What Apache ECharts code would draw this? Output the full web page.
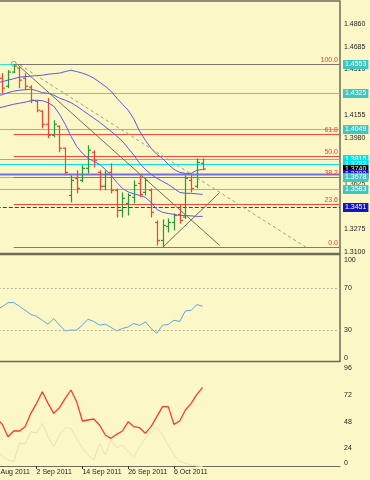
<!DOCTYPE html>
<html>
<head>
<meta charset="utf-8">
<script src="https://cdn.jsdelivr.net/npm/echarts@6/dist/echarts.min.js"></script>
<style>
  html, body { margin: 0; padding: 0; background: #fbf7c6; }
  #chart { width: 370px; height: 480px; }
</style>
</head>
<body>
<div id="chart"></div>
<script>
// trading days on the x axis, index 0 = 23 Aug
var dates = ['23 Aug 2011', '24 Aug 2011', '25 Aug 2011', '26 Aug 2011', '29 Aug 2011', '30 Aug 2011',
  '31 Aug 2011', '1 Sep 2011', '2 Sep 2011', '5 Sep 2011', '6 Sep 2011', '7 Sep 2011', '8 Sep 2011',
  '9 Sep 2011', '12 Sep 2011', '13 Sep 2011', '14 Sep 2011', '15 Sep 2011', '16 Sep 2011', '19 Sep 2011',
  '20 Sep 2011', '21 Sep 2011', '22 Sep 2011', '23 Sep 2011', '26 Sep 2011', '27 Sep 2011', '28 Sep 2011',
  '29 Sep 2011', '30 Sep 2011', '3 Oct 2011', '4 Oct 2011', '5 Oct 2011', '6 Oct 2011', '7 Oct 2011',
  '10 Oct 2011', '11 Oct 2011', '12 Oct 2011', '13 Oct 2011'];
var dateTicks = [0, 8, 16, 24, 32];
var slots = 61;

// daily bars from 25 Aug
var firstBar = 2;
var opens  = [1.4442, 1.4380, 1.4489, 1.4520, 1.4442, 1.4373, 1.4264, 1.4187, 1.4086, 1.4001, 1.4071, 1.3901,
  1.3537, 1.3669, 1.3653, 1.3746, 1.3870, 1.3715, 1.3607, 1.3715, 1.3576, 1.3421, 1.3475, 1.3522,
  1.3630, 1.3560, 1.3576, 1.3328, 1.3189, 1.3297, 1.3328, 1.3390, 1.3370, 1.3653, 1.3607, 1.3785];
var highs  = [1.4481, 1.4504, 1.4551, 1.4527, 1.4481, 1.4388, 1.4272, 1.4195, 1.4288, 1.4117, 1.4079, 1.3908,
  1.3692, 1.3731, 1.3769, 1.3924, 1.3885, 1.3731, 1.3731, 1.3785, 1.3591, 1.3560, 1.3553, 1.3653,
  1.3692, 1.3669, 1.3591, 1.3344, 1.3351, 1.3359, 1.3398, 1.3467, 1.3692, 1.3692, 1.3823, 1.3823];
var lows   = [1.4326, 1.4365, 1.4481, 1.4365, 1.4349, 1.4249, 1.4179, 1.4055, 1.3978, 1.3986, 1.3870, 1.3692,
  1.3483, 1.3553, 1.3638, 1.3707, 1.3754, 1.3576, 1.3576, 1.3553, 1.3367, 1.3367, 1.3382, 1.3475,
  1.3522, 1.3537, 1.3367, 1.3150, 1.3135, 1.3251, 1.3266, 1.3320, 1.3355, 1.3560, 1.3591, 1.3731];
var closes = [1.4365, 1.4489, 1.4535, 1.4427, 1.4380, 1.4272, 1.4195, 1.4086, 1.4001, 1.4086, 1.3901, 1.3715,
  1.3653, 1.3591, 1.3746, 1.3885, 1.3808, 1.3607, 1.3700, 1.3576, 1.3421, 1.3514, 1.3537, 1.3614,
  1.3545, 1.3653, 1.3406, 1.3189, 1.3305, 1.3328, 1.3382, 1.3344, 1.3669, 1.3591, 1.3792, 1.3740];

// indicator lines from 24 Aug
var lineStart = 1;
var envUpper = [1.4404, 1.4415, 1.4427, 1.4438, 1.4450, 1.4454, 1.4458, 1.4462, 1.4465, 1.4473, 1.4477, 1.4481,
  1.4493, 1.4504, 1.4493, 1.4481, 1.4465, 1.4442, 1.4411, 1.4380, 1.4342, 1.4288, 1.4241, 1.4195, 1.4125,
  1.4032, 1.3963, 1.3901, 1.3854, 1.3823, 1.3777, 1.3738, 1.3715, 1.3707, 1.3707, 1.3731, 1.3738];
var envMid = [1.4303, 1.4315, 1.4330, 1.4342, 1.4349, 1.4353, 1.4357, 1.4346, 1.4330, 1.4326, 1.4311, 1.4288,
  1.4272, 1.4253, 1.4226, 1.4195, 1.4164, 1.4133, 1.4102, 1.4067, 1.4032, 1.3994, 1.3955, 1.3901, 1.3847,
  1.3785, 1.3738, 1.3700, 1.3669, 1.3645, 1.3622, 1.3591, 1.3560, 1.3553, 1.3553, 1.3549, 1.3545];
var envLower = [1.4210, 1.4218, 1.4230, 1.4241, 1.4249, 1.4257, 1.4268, 1.4272, 1.4268, 1.4253, 1.4226, 1.4164,
  1.4086, 1.3994, 1.3916, 1.3862, 1.3823, 1.3800, 1.3777, 1.3738, 1.3692, 1.3638, 1.3591, 1.3564, 1.3549,
  1.3537, 1.3522, 1.3483, 1.3429, 1.3406, 1.3398, 1.3390, 1.3382, 1.3382, 1.3379, 1.3375, 1.3375];
var rsi = [50.0, 52.4, 56.4, 56.4, 52.9, 49.0, 45.0, 43.3, 39.5, 35.7, 41.1, 34.8, 29.3, 30.0, 30.0, 34.8,
  40.5, 38.3, 34.8, 35.7, 32.6, 29.3, 31.6, 33.1, 36.4, 34.5, 37.9, 31.6, 26.9, 34.8, 35.4, 39.5, 38.3,
  48.4, 49.0, 54.5, 52.9];
var oscMain = [51.3, 45.6, 34.5, 39.6, 39.6, 43.5, 55.5, 64.5, 75.0, 64.5, 55.5, 60.6, 69.0, 76.5, 66.0, 48.6,
  49.5, 50.4, 45.0, 36.0, 33.0, 36.6, 39.6, 48.0, 43.5, 42.6, 37.5, 43.5, 52.5, 61.5, 61.5, 45.6, 48.6,
  58.5, 64.5, 72.6, 78.9];
var oscSignal = [22.5, 17.1, 13.5, 12.0, 28.8, 27.9, 39.0, 37.8, 46.5, 34.5, 25.5, 36.0, 42.6, 42.0, 33.0, 24.0,
  18.0, 13.5, 28.5, 18.0, 31.5, 24.6, 27.0, 21.0, 16.5, 25.5, 33.0, 38.4, 43.5, 36.0, 27.0, 18.0, 12.6,
  10.5, 9.0, 8.1, 7.5];

// axis ticks
var priceTicks = [1.3100, 1.3275, 1.3450, 1.3625, 1.3805, 1.3980, 1.4155, 1.4335, 1.4510, 1.4685, 1.4860];
var rsiTicks = [0, 30, 70, 100];
var rsiLevels = [30, 70];
var oscTicks = [0, 24, 48, 72, 96];

// drawn objects
var levels = [1.4553, 1.4325, 1.4049, 1.3583, 1.3815, 1.3782, 1.3678];
var brightLevels = [1.3815, 1.3782];
var supportLine = 1.3703;
var dashedLevel = 1.3451;
var bid = 1.3740;
var fibHigh = 1.4553, fibLow = 1.3135, fibStart = 4;
var fibRatios = [0, 23.6, 38.2, 50.0, 61.8, 100.0];
var trendDown = [[4.75, 1.4543], [40, 1.3150]];
var trendUp = [[30, 1.3135], [40, 1.3560]];
var channel = [[5.1, 1.4543], [55.4, 1.3127]];

var FONT = "'Liberation Sans', Arial, sans-serif";
var FRAME = '#6e6c5c';
var TAG_BG = ['#3ec6c0', '#00e2ee', '#000000', '#1818c8', '#1414c4'];
// horizontal line styles: turquoise, bright cyan, violet, dashed blue, fib red, grey
var H_STYLE = [
  { stroke: '#2ee2d6', lineWidth: 1 },
  { stroke: '#00eaf4', lineWidth: 1 },
  { stroke: '#7070f0', lineWidth: 2 },
  { stroke: '#2a2aff', lineWidth: 1, lineDash: [4, 2] },
  { stroke: '#ff4638', lineWidth: 1 },
  { stroke: '#7a786a', lineWidth: 1 }
];

function series(arr, start) {
  return arr.map(function (v, i) { return [start + i, v]; });
}

var bars = opens.map(function (o, i) {
  return [firstBar + i, o, highs[i], lows[i], closes[i]];
});

function renderBar(params, api) {
  var x = api.value(0);
  var o = api.coord([x, api.value(1)]);
  var h = api.coord([x, api.value(2)]);
  var l = api.coord([x, api.value(3)]);
  var c = api.coord([x, api.value(4)]);
  var color = api.value(4) >= api.value(1) ? '#249a34' : '#f8402f';
  var px = Math.round(o[0]) + 0.5;
  var st = { stroke: color, lineWidth: 1.2 };
  return {
    type: 'group',
    children: [
      { type: 'line', shape: { x1: px, y1: h[1], x2: px, y2: l[1] }, style: st },
      { type: 'line', shape: { x1: px - 2.5, y1: o[1], x2: px, y2: o[1] }, style: st },
      { type: 'line', shape: { x1: px, y1: c[1], x2: px + 2.5, y2: c[1] }, style: st }
    ]
  };
}

// horizontal segments: [from x, to x, price, style]
var hSegments = [];
levels.forEach(function (v) {
  hSegments.push([0, slots, v, brightLevels.indexOf(v) >= 0 ? 1 : 0]);
});
hSegments.push([0, slots, supportLine, 2]);
hSegments.push([0, slots, dashedLevel, 3]);
var fibData = fibRatios.map(function (r) {
  return [fibLow + (fibHigh - fibLow) * r / 100, r];
});
fibData.forEach(function (f) {
  hSegments.push([fibStart, slots, f[0], 4]);
});
hSegments.push([fibStart, slots, fibHigh, 5]);

function renderSegment(params, api) {
  var a = api.coord([api.value(0), api.value(2)]);
  var b = api.coord([api.value(1), api.value(2)]);
  var y = Math.round(a[1]) + 0.5;
  return {
    type: 'line', shape: { x1: a[0], y1: y, x2: b[0], y2: y },
    style: Object.assign({}, H_STYLE[api.value(3)])
  };
}

// price tags on the right, drawn in list order (later ones on top)
var tags = [];
levels.forEach(function (v) {
  if (v === 1.3678) {
    tags.push([bid, 2]);
    tags.push([supportLine, 3]);
  }
  tags.push([v, brightLevels.indexOf(v) >= 0 ? 1 : 0]);
});
tags.push([dashedLevel, 4]);

function renderTag(params, api) {
  var v = api.value(0);
  var p = api.coord([slots, v]);
  return {
    type: 'text', x: p[0] + 3, y: Math.round(p[1]) + 0.5,
    style: {
      text: v.toFixed(4), fill: '#ffffff', backgroundColor: TAG_BG[api.value(1)],
      padding: [1, 2, 1, 2], fontSize: 7, fontFamily: FONT, align: 'left', verticalAlign: 'middle'
    }
  };
}

function renderFibLabel(params, api) {
  var p = api.coord([slots, api.value(0)]);
  return {
    type: 'text', x: p[0] - 2, y: Math.round(p[1]) - 0.5,
    style: {
      text: api.value(1).toFixed(1), fill: '#ff3a2a', fontSize: 7, fontFamily: FONT,
      align: 'right', verticalAlign: 'bottom'
    }
  };
}

function xAxisHidden(g) {
  return { gridIndex: g, type: 'value', min: 0, max: slots, show: false };
}

function grid(top, height, border) {
  return {
    left: -9.2, top: top, width: 349.2, height: height, outerBoundsMode: 'none', containLabel: false,
    show: border, borderColor: FRAME, borderWidth: 1.5, backgroundColor: 'transparent'
  };
}

var labelStyle = { margin: 4, fontSize: 7, color: '#1e1e1e', fontFamily: FONT };

var option = {
  animation: false,
  backgroundColor: '#fbf7c6',
  textStyle: { fontFamily: FONT },
  grid: [grid(1, 252.5, true), grid(254.5, 107, true), grid(363, 112, false)],
  xAxis: [
    xAxisHidden(0),
    xAxisHidden(1),
    {
      gridIndex: 2, type: 'value', min: 0, max: slots, offset: -9,
      axisLine: { show: true, lineStyle: { color: FRAME, width: 1 } },
      axisTick: { show: true, customValues: dateTicks, length: 3, lineStyle: { color: '#333' } },
      axisLabel: Object.assign({}, labelStyle, {
        customValues: dateTicks, align: 'left', margin: 3,
        formatter: function (v) { return dates[v] || ''; }
      }),
      splitLine: { show: false }
    }
  ],
  yAxis: [
    {
      gridIndex: 0, type: 'value', position: 'right', min: 1.30884, max: 1.5038,
      axisLine: { show: false }, splitLine: { show: false },
      axisTick: { show: true, customValues: priceTicks, length: 2, lineStyle: { color: '#333' } },
      axisLabel: Object.assign({}, labelStyle, { customValues: priceTicks, formatter: function (v) { return v.toFixed(4); } })
    },
    {
      gridIndex: 1, type: 'value', position: 'right', min: 0, max: 102.4,
      axisLine: { show: false }, splitLine: { show: false },
      axisTick: { show: true, customValues: rsiTicks, length: 2, lineStyle: { color: '#333' } },
      axisLabel: Object.assign({}, labelStyle, { customValues: rsiTicks, verticalAlignMinLabel: 'bottom', verticalAlignMaxLabel: 'top' })
    },
    {
      gridIndex: 2, type: 'value', position: 'right', min: 0, max: 100.8,
      axisLine: { show: true, lineStyle: { color: FRAME, width: 1.5 } }, splitLine: { show: false },
      axisTick: { show: true, customValues: oscTicks, length: 2, lineStyle: { color: '#333' } },
      axisLabel: Object.assign({}, labelStyle, {
        customValues: oscTicks, verticalAlignMinLabel: 'bottom',
        formatter: function (v) { return v === 0 ? '{low|0}' : String(v); },
        rich: { low: { padding: [0, 0, 8, 0], fontSize: 7, color: '#1e1e1e', fontFamily: FONT } }
      })
    }
  ],
  series: [
    {
      name: 'hlines', type: 'custom', xAxisIndex: 0, yAxisIndex: 0, data: hSegments, silent: true,
      renderItem: renderSegment, encode: { x: [0, 1], y: 2 }
    },
    {
      name: 'upper', type: 'line', xAxisIndex: 0, yAxisIndex: 0, data: series(envUpper, lineStart),
      showSymbol: false, lineStyle: { color: '#5a5aea', width: 1 }
    },
    {
      name: 'middle', type: 'line', xAxisIndex: 0, yAxisIndex: 0, data: series(envMid, lineStart),
      showSymbol: false, lineStyle: { color: '#5a5aea', width: 1 }
    },
    {
      name: 'lower', type: 'line', xAxisIndex: 0, yAxisIndex: 0, data: series(envLower, lineStart),
      showSymbol: false, lineStyle: { color: '#5a5aea', width: 1 }
    },
    {
      name: 'trendDown', type: 'line', xAxisIndex: 0, yAxisIndex: 0, data: trendDown,
      showSymbol: false, lineStyle: { color: '#706e62', width: 1 }
    },
    {
      name: 'trendUp', type: 'line', xAxisIndex: 0, yAxisIndex: 0, data: trendUp,
      showSymbol: false, lineStyle: { color: '#706e62', width: 1 }
    },
    {
      name: 'channel', type: 'line', xAxisIndex: 0, yAxisIndex: 0, data: channel,
      showSymbol: false, lineStyle: { color: '#7eae78', width: 1, type: [3, 3] }
    },
    {
      name: 'bars', type: 'custom', xAxisIndex: 0, yAxisIndex: 0, data: bars,
      renderItem: renderBar, encode: { x: 0, y: [1, 2, 3, 4] }
    },
    {
      name: 'anchor', type: 'scatter', xAxisIndex: 0, yAxisIndex: 0, data: [[fibStart, fibHigh]],
      symbol: 'circle', symbolSize: 5, itemStyle: { color: 'rgba(0,0,0,0)', borderColor: '#8a8878', borderWidth: 1 }
    },
    {
      name: 'fibLabels', type: 'custom', xAxisIndex: 0, yAxisIndex: 0, data: fibData, z: 4, silent: true,
      renderItem: renderFibLabel, encode: { y: 0 }
    },
    {
      name: 'tags', type: 'custom', xAxisIndex: 0, yAxisIndex: 0, data: tags, z: 5, silent: true, clip: false,
      renderItem: renderTag, encode: { y: 0 }
    },
    {
      name: 'rsi', type: 'line', xAxisIndex: 1, yAxisIndex: 1, data: series(rsi, lineStart),
      showSymbol: false, lineStyle: { color: '#5aa6ea', width: 1 },
      markLine: {
        silent: true, symbol: ['none', 'none'], label: { show: false },
        lineStyle: { color: '#b8b49c', width: 1, type: [2, 2] },
        data: rsiLevels.map(function (v) { return { yAxis: v }; })
      }
    },
    {
      name: 'signal', type: 'line', xAxisIndex: 2, yAxisIndex: 2, data: series(oscSignal, lineStart),
      showSymbol: false, lineStyle: { color: '#ece0ae', width: 1 }
    },
    {
      name: 'main', type: 'line', xAxisIndex: 2, yAxisIndex: 2, data: series(oscMain, lineStart),
      showSymbol: false, lineStyle: { color: '#ff3a2e', width: 1.3 }
    }
  ]
};

var chart = echarts.init(document.getElementById('chart'), null, { renderer: 'canvas' });
chart.setOption(option);
</script>
</body>
</html>
